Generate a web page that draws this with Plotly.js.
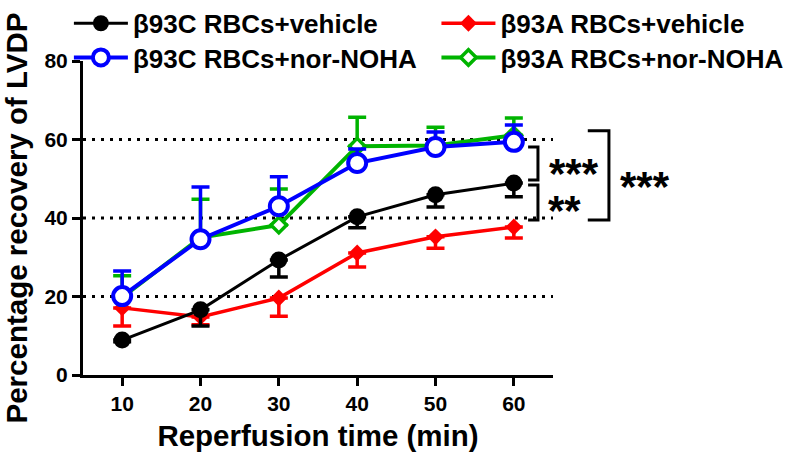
<!DOCTYPE html>
<html>
<head>
<meta charset="utf-8">
<script src="https://cdn.plot.ly/plotly-3.0.1.min.js"></script>
<style>html,body{margin:0;padding:0;background:#fff;}#chart{width:800px;height:466px;}</style>
</head>
<body>
<div id="chart"></div>
<script>
// ---- data ----
var times = [10, 20, 30, 40, 50, 60];

var cVehicle      = [8.9, 16.6, 29.3, 40.3, 45.9, 48.9];
var cVehicleErr   = [0.4, 4.1, 4.3, 2.8, 3.1, 3.5];     // drawn downward

var aVehicle      = [17.1, 14.8, 19.6, 31.1, 35.2, 37.7];
var aVehicleErr   = [4.6, 2.0, 4.6, 3.6, 2.9, 2.8];     // drawn downward

var cNorNoha      = [20.1, 34.6, 43.0, 54.0, 58.1, 59.4];
var cNorNohaErr   = [6.4, 13.3, 7.5, 3.6, 3.8, 4.3];    // drawn upward

var aNorNoha      = [19.8, 35.0, 38.2, 58.3, 58.5, 61.1];
var aNorNohaErr   = [5.5, 9.8, 9.2, 7.4, 4.6, 4.4];     // drawn upward

var seriesNames = ['\u03b293C RBCs+vehicle', '\u03b293A RBCs+vehicle',
                   '\u03b293C RBCs+nor-NOHA', '\u03b293A RBCs+nor-NOHA'];
var yTicks = [0, 20, 40, 60, 80];
var gridVals = [20, 40, 60];
var sigLabels = ['***', '**', '***'];
// bracket spans in data units (low, high)
var sigSpans = [[49.7, 58.1], [39.5, 48.4], [39.5, 62.2]];

var zeros = times.map(function(){return 0;});
var FONT = 'Liberation Sans, Arial, Helvetica, sans-serif';

function errUp(v){return {type:'data', symmetric:false, array:v, arrayminus:zeros, thickness:3.5, width:9};}
function errDown(v){return {type:'data', symmetric:false, array:zeros, arrayminus:v, thickness:3.5, width:9};}

var red = '#ff0000', green = '#00b400', blue = '#0000ff', black = '#000000';

var traces = [
  {x: times, y: aVehicle, name: seriesNames[1], legend: 'legend2', mode: 'lines+markers',
   line: {color: red, width: 3.5}, marker: {symbol: 'diamond', size: 13, color: red},
   error_y: Object.assign(errDown(aVehicleErr), {color: red})},
  {x: times, y: aNorNoha, name: seriesNames[3], legend: 'legend4', mode: 'lines+markers',
   line: {color: green, width: 4}, marker: {symbol: 'diamond', size: 12, color: '#ffffff', line: {color: green, width: 3.5}},
   error_y: Object.assign(errUp(aNorNohaErr), {color: green})},
  {x: times, y: cVehicle, name: seriesNames[0], legend: 'legend', mode: 'lines+markers',
   line: {color: black, width: 3}, marker: {symbol: 'circle', size: 17, color: black},
   error_y: Object.assign(errDown(cVehicleErr), {color: black})},
  {x: times, y: cNorNoha, name: seriesNames[2], legend: 'legend3', mode: 'lines+markers',
   line: {color: blue, width: 4}, marker: {symbol: 'circle', size: 18, color: '#ffffff', line: {color: blue, width: 4}},
   error_y: Object.assign(errUp(cNorNohaErr), {color: blue})}
];

function legendAt(x, y){
  return {x: x, y: y, xanchor: 'left', yanchor: 'middle', orientation: 'v',
          bgcolor: 'rgba(0,0,0,0)', borderwidth: 0, itemwidth: 54,
          font: {family: FONT, size: 26, color: '#000', weight: 'bold'}};
}

var shapes = [];
gridVals.forEach(function(g){
  shapes.push({type: 'line', xref: 'paper', yref: 'y', x0: 0, x1: 1, y0: g, y1: g, layer: 'below',
               line: {color: '#000', width: 3, dash: '3px,6px'}});
});
// brackets
var bx = [[0.947, 0.968], [0.947, 0.968], [1.074, 1.119]];
sigSpans.forEach(function(s, i){
  var x0 = bx[i][0], x1 = bx[i][1];
  shapes.push({type: 'path', xref: 'paper', yref: 'y',
    path: 'M' + x0 + ',' + s[1] + ' L' + x1 + ',' + s[1] + ' L' + x1 + ',' + s[0] + ' L' + x0 + ',' + s[0],
    line: {color: '#000', width: 3}});
});

var annX = [1.045, 1.024, 1.195];
var annotations = sigLabels.map(function(t, i){
  var s = sigSpans[i];
  return {xref: 'paper', yref: 'y', x: annX[i], y: (s[0] + s[1]) / 2, text: t, showarrow: false,
          xanchor: 'center', yanchor: 'middle', yshift: [-10, -8, -11][i],
          font: {family: FONT, size: 42, color: '#000', weight: 'bold'}};
});

var layout = {
  width: 800, height: 466,
  paper_bgcolor: '#ffffff', plot_bgcolor: '#ffffff',
  margin: {l: 83, r: 247, t: 61, b: 91, autoexpand: false},
  font: {family: FONT, color: '#000'},
  showlegend: true,
  xaxis: {range: [5, 65], tickvals: times, ticks: 'outside', ticklen: 8, tickwidth: 3, tickcolor: '#000',
          showline: true, linewidth: 3, linecolor: '#000', showgrid: false, zeroline: false,
          tickfont: {family: FONT, size: 21, color: '#000', weight: 'bold'},
          title: {text: 'Reperfusion time (min)', standoff: 12, font: {family: FONT, size: 29.5, color: '#000', weight: 'bold'}}},
  yaxis: {range: [0, 80], tickvals: yTicks, ticks: 'outside', ticklen: 8, tickwidth: 3, tickcolor: '#000',
          showline: true, linewidth: 3, linecolor: '#000', showgrid: false, zeroline: false,
          tickfont: {family: FONT, size: 21, color: '#000', weight: 'bold'},
          title: {text: 'Percentage recovery of LVDP', standoff: 10, font: {family: FONT, size: 29.5, color: '#000', weight: 'bold'}}},
  legend: legendAt(-0.03, 1.12),
  legend2: legendAt(0.752, 1.12),
  legend3: legendAt(-0.03, 1.011),
  legend4: legendAt(0.752, 1.011),
  shapes: shapes,
  annotations: annotations
};

Plotly.newPlot('chart', traces, layout, {displayModeBar: false, staticPlot: true});
</script>
</body>
</html>
